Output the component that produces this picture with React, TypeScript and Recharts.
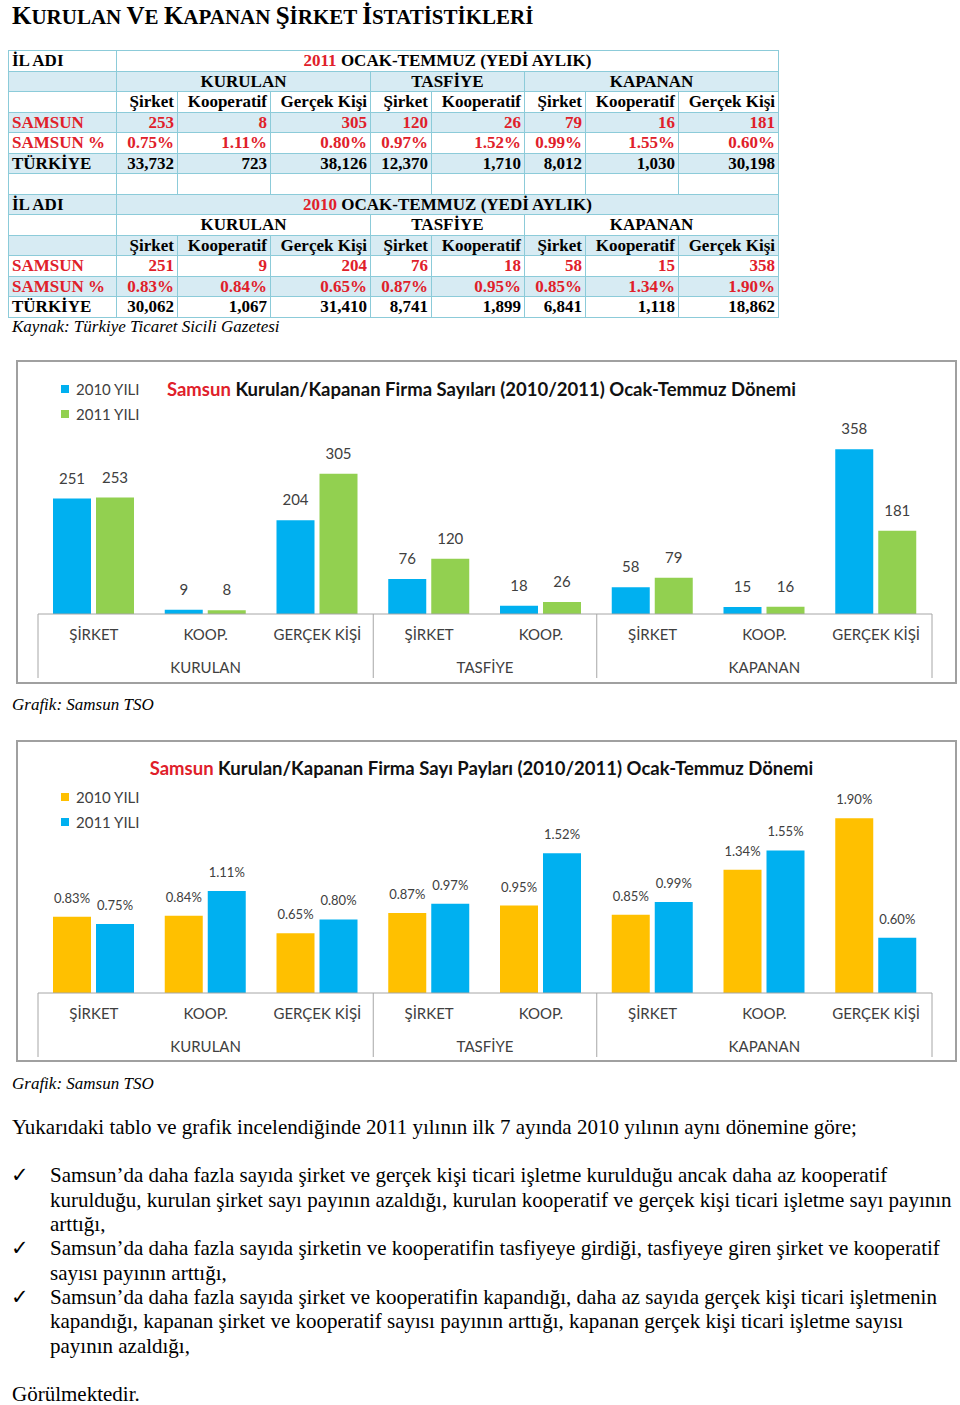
import React from 'react';
import { BarChart, Bar, XAxis, YAxis, LabelList, Legend } from 'recharts';

// --- data ---
const categories = ['ŞİRKET', 'KOOP.', 'GERÇEK KİŞİ', 'ŞİRKET', 'KOOP.', 'ŞİRKET', 'KOOP.', 'GERÇEK KİŞİ'];
const groups = [
  { name: 'KURULAN', start: 0, count: 3 },
  { name: 'TASFİYE', start: 3, count: 2 },
  { name: 'KAPANAN', start: 5, count: 3 },
];
const tableCols = ['Şirket', 'Kooperatif', 'Gerçek Kişi', 'Şirket', 'Kooperatif', 'Şirket', 'Kooperatif', 'Gerçek Kişi'];
const count2010 = [251, 9, 204, 76, 18, 58, 15, 358];
const count2011 = [253, 8, 305, 120, 26, 79, 16, 181];
const share2010 = [0.83, 0.84, 0.65, 0.87, 0.95, 0.85, 1.34, 1.9];
const share2011 = [0.75, 1.11, 0.8, 0.97, 1.52, 0.99, 1.55, 0.6];
const turkey2010 = [30062, 1067, 31410, 8741, 1899, 6841, 1118, 18862];
const turkey2011 = [33732, 723, 38126, 12370, 1710, 8012, 1030, 30198];

const SERIF = "'Liberation Serif', 'Times New Roman', serif";
const CHART_FONT = "Lato, 'Noto Sans', sans-serif";
const RED = '#e0202a';
const TBL_BLUE = '#d7ebf3';
const TBL_BORDER = '#8ccbd9';
const GREY = '#404040';
const AXIS = '#a6a6a6';

const CHART_W = 941;
const M_LEFT = 22;
const M_RIGHT = 25;
const BAND = (CHART_W - M_LEFT - M_RIGHT) / categories.length;

const fmtNum = (n: number) => n.toLocaleString('en-US');
const fmtPct = (n: number) => n.toFixed(2) + '%';

// --- chart pieces ---
const CategoryTick = (props: any) => {
  const { x, y, index } = props;
  const g = groups.find((gr) => gr.start === index);
  const last = index === categories.length - 1;
  return (
    <g>
      <text x={x} y={y + 26} textAnchor="middle" fontSize={15} fill={GREY} fontFamily={CHART_FONT}>
        {categories[index]}
      </text>
      {g && <line x1={x - BAND / 2} x2={x - BAND / 2} y1={y} y2={y + 64} stroke={AXIS} strokeWidth={1} />}
      {g && (
        <text x={x - BAND / 2 + (g.count * BAND) / 2} y={y + 59} textAnchor="middle" fontSize={15} fill={GREY} fontFamily={CHART_FONT}>
          {g.name}
        </text>
      )}
      {last && <line x1={x + BAND / 2} x2={x + BAND / 2} y1={y} y2={y + 64} stroke={AXIS} strokeWidth={1} />}
    </g>
  );
};

const LegendBox = (props: any) => (
  <div style={{ fontFamily: CHART_FONT, fontSize: 15, color: GREY }}>
    {(props.payload || []).map((it: any) => (
      <div key={it.value} style={{ display: 'flex', alignItems: 'center', height: 25 }}>
        <span style={{ width: 8, height: 8, background: it.color, marginRight: 7, display: 'inline-block' }} />
        <span>{it.value}</span>
      </div>
    ))}
  </div>
);

const ChartTitle = ({ text, top }: { text: string; top: number }) => (
  <div
    style={{
      position: 'absolute', left: 0, width: CHART_W - 10, top, textAlign: 'center', fontFamily: CHART_FONT,
      fontWeight: 700, fontSize: 18.5, color: '#111', whiteSpace: 'nowrap', lineHeight: '24px',
    }}
  >
    <span style={{ color: RED }}>Samsun</span> {text}
  </div>
);

const chart1Data = categories.map((c, i) => ({ id: i, cat: c, y2010: count2010[i], y2011: count2011[i] }));
const chart2Data = categories.map((c, i) => ({ id: i, cat: c, y2010: share2010[i], y2011: share2011[i] }));

const Frame = ({ top, height, children }: { top: number; height: number; children: React.ReactNode }) => (
  <div style={{ position: 'absolute', left: 16, top, width: CHART_W, height, border: '2px solid #a0a0a0', boxSizing: 'border-box', background: '#fff' }}>
    <div style={{ position: 'absolute', left: -2, top: -2, width: CHART_W, height }}>{children}</div>
  </div>
);

// --- table ---
const cell: React.CSSProperties = {
  border: `1px solid ${TBL_BORDER}`, padding: '0 3px', height: 19.5, lineHeight: '19px', whiteSpace: 'nowrap', overflow: 'hidden',
};

const TableBlock = ({ year, counts, shares, turkey, blueFirst }: any) => {
  const bg = (i: number) => ((i % 2 === 0) === blueFirst ? TBL_BLUE : '#fff');
  return (
    <>
      <tr style={{ background: bg(0) }}>
        <td style={cell}>İL ADI</td>
        <td style={{ ...cell, textAlign: 'center' }} colSpan={8}>
          <span style={{ color: RED }}>{year}</span> OCAK-TEMMUZ (YEDİ AYLIK)
        </td>
      </tr>
      <tr style={{ background: bg(1) }}>
        <td style={cell}></td>
        <td style={{ ...cell, textAlign: 'center' }} colSpan={3}>KURULAN</td>
        <td style={{ ...cell, textAlign: 'center' }} colSpan={2}>TASFİYE</td>
        <td style={{ ...cell, textAlign: 'center' }} colSpan={3}>KAPANAN</td>
      </tr>
      <tr style={{ background: bg(2) }}>
        <td style={cell}></td>
        {tableCols.map((c, i) => <td key={i} style={{ ...cell, textAlign: 'right' }}>{c}</td>)}
      </tr>
      <tr style={{ background: bg(3), color: RED }}>
        <td style={cell}>SAMSUN</td>
        {counts.map((v: number, i: number) => <td key={i} style={{ ...cell, textAlign: 'right' }}>{v}</td>)}
      </tr>
      <tr style={{ background: bg(4), color: RED }}>
        <td style={cell}>SAMSUN %</td>
        {shares.map((v: number, i: number) => <td key={i} style={{ ...cell, textAlign: 'right' }}>{fmtPct(v)}</td>)}
      </tr>
      <tr style={{ background: bg(5) }}>
        <td style={cell}>TÜRKİYE</td>
        {turkey.map((v: number, i: number) => <td key={i} style={{ ...cell, textAlign: 'right' }}>{fmtNum(v)}</td>)}
      </tr>
    </>
  );
};

const colWidths = [108, 61, 93, 100, 61, 93, 61, 93, 100];

const textLines = [
  { y: 1128, x: 12, t: 'Yukarıdaki tablo ve grafik incelendiğinde 2011 yılının ilk 7 ayında 2010 yılının aynı dönemine göre;' },
  { y: 1176, x: 50, t: 'Samsun’da daha fazla sayıda şirket ve gerçek kişi ticari işletme kurulduğu ancak daha az kooperatif', check: true },
  { y: 1201, x: 50, t: 'kurulduğu, kurulan şirket sayı payının azaldığı, kurulan kooperatif ve gerçek kişi ticari işletme sayı payının' },
  { y: 1225, x: 50, t: 'arttığı,' },
  { y: 1249, x: 50, t: 'Samsun’da daha fazla sayıda şirketin ve kooperatifin tasfiyeye girdiği, tasfiyeye giren şirket ve kooperatif', check: true },
  { y: 1274, x: 50, t: 'sayısı payının arttığı,' },
  { y: 1298, x: 50, t: 'Samsun’da daha fazla sayıda şirket ve kooperatifin kapandığı, daha az sayıda gerçek kişi ticari işletmenin', check: true },
  { y: 1322, x: 50, t: 'kapandığı, kapanan şirket ve kooperatif sayısı payının arttığı, kapanan gerçek kişi ticari işletme sayısı' },
  { y: 1347, x: 50, t: 'payının azaldığı,' },
  { y: 1395, x: 12, t: 'Görülmektedir.' },
];

const App = () => {
  const big = { fontSize: 25 };
  const small = { fontSize: 21 };
  return (
    <div style={{ position: 'absolute', left: 0, top: 0, width: 960, height: 1405, background: '#fff', fontFamily: SERIF, color: '#000' }}>
      <div style={{ position: 'absolute', left: 12, top: 2, fontWeight: 700, lineHeight: '28px', whiteSpace: 'nowrap' }}>
        <span style={big}>K</span><span style={small}>URULAN </span>
        <span style={big}>V</span><span style={small}>E </span>
        <span style={big}>K</span><span style={small}>APANAN </span>
        <span style={big}>Ş</span><span style={small}>İRKET </span>
        <span style={big}>İ</span><span style={small}>STATİSTİKLERİ</span>
      </div>

      <table
        style={{
          position: 'absolute', left: 8, top: 50, width: 770, borderCollapse: 'collapse', tableLayout: 'fixed',
          fontFamily: SERIF, fontWeight: 700, fontSize: 17,
        }}
      >
        <colgroup>
          {colWidths.map((w, i) => <col key={i} style={{ width: w }} />)}
        </colgroup>
        <tbody>
          <TableBlock year={2011} counts={count2011} shares={share2011} turkey={turkey2011} blueFirst={false} />
          <tr style={{ background: '#fff' }}>
            {colWidths.map((_, i) => <td key={i} style={cell}></td>)}
          </tr>
          <TableBlock year={2010} counts={count2010} shares={share2010} turkey={turkey2010} blueFirst={true} />
        </tbody>
      </table>
      <div style={{ position: 'absolute', left: 12, top: 317, fontStyle: 'italic', fontSize: 17, lineHeight: '20px' }}>
        Kaynak: Türkiye Ticaret Sicili Gazetesi
      </div>

      <Frame top={360} height={324}>
        <BarChart width={CHART_W} height={324} data={chart1Data} margin={{ top: 70, right: M_RIGHT, left: M_LEFT, bottom: 4 }} barSize={38} barGap={5}>
          <XAxis dataKey="id" height={66} interval={0} tickSize={0} tickMargin={0} stroke={AXIS} tick={<CategoryTick />} />
          <YAxis hide domain={[0, 400]} />
          <Legend layout="vertical" align="center" verticalAlign="middle" content={<LegendBox />} wrapperStyle={{ left: 45, top: 16, width: 'auto', height: 'auto' }} />
          <Bar dataKey="y2010" name="2010 YILI" fill="#00b0f0" isAnimationActive={false}>
            <LabelList dataKey="y2010" position="top" offset={15} fontSize={15} fill={GREY} fontFamily={CHART_FONT} />
          </Bar>
          <Bar dataKey="y2011" name="2011 YILI" fill="#92d050" isAnimationActive={false}>
            <LabelList dataKey="y2011" position="top" offset={15} fontSize={15} fill={GREY} fontFamily={CHART_FONT} />
          </Bar>
        </BarChart>
        <ChartTitle text="Kurulan/Kapanan Firma Sayıları (2010/2011) Ocak-Temmuz Dönemi" top={17} />
      </Frame>
      <div style={{ position: 'absolute', left: 12, top: 695, fontStyle: 'italic', fontSize: 17, lineHeight: '20px' }}>Grafik: Samsun TSO</div>

      <Frame top={740} height={322}>
        <BarChart width={CHART_W} height={322} data={chart2Data} margin={{ top: 69, right: M_RIGHT, left: M_LEFT, bottom: 4 }} barSize={38} barGap={5}>
          <XAxis dataKey="id" height={65} interval={0} tickSize={0} tickMargin={0} stroke={AXIS} tick={<CategoryTick />} />
          <YAxis hide domain={[0, 2]} />
          <Legend layout="vertical" align="center" verticalAlign="middle" content={<LegendBox />} wrapperStyle={{ left: 45, top: 44, width: 'auto', height: 'auto' }} />
          <Bar dataKey="y2010" name="2010 YILI" fill="#ffc000" isAnimationActive={false}>
            <LabelList dataKey="y2010" position="top" offset={14} fontSize={13} fill={GREY} fontFamily={CHART_FONT} formatter={(v: any) => fmtPct(Number(v))} />
          </Bar>
          <Bar dataKey="y2011" name="2011 YILI" fill="#00b0f0" isAnimationActive={false}>
            <LabelList dataKey="y2011" position="top" offset={14} fontSize={13} fill={GREY} fontFamily={CHART_FONT} formatter={(v: any) => fmtPct(Number(v))} />
          </Bar>
        </BarChart>
        <ChartTitle text="Kurulan/Kapanan Firma Sayı Payları (2010/2011) Ocak-Temmuz Dönemi" top={16} />
      </Frame>
      <div style={{ position: 'absolute', left: 12, top: 1074, fontStyle: 'italic', fontSize: 17, lineHeight: '20px' }}>Grafik: Samsun TSO</div>

      {textLines.map((l, i) => (
        <React.Fragment key={i}>
          {l.check && (
            <div style={{ position: 'absolute', left: 11, top: l.y - 13, fontSize: 21, lineHeight: '24px' }}>✓</div>
          )}
          <div style={{ position: 'absolute', left: l.x, top: l.y - 13, fontSize: 21, lineHeight: '24px', whiteSpace: 'nowrap' }}>{l.t}</div>
        </React.Fragment>
      ))}
    </div>
  );
};

export default App;
